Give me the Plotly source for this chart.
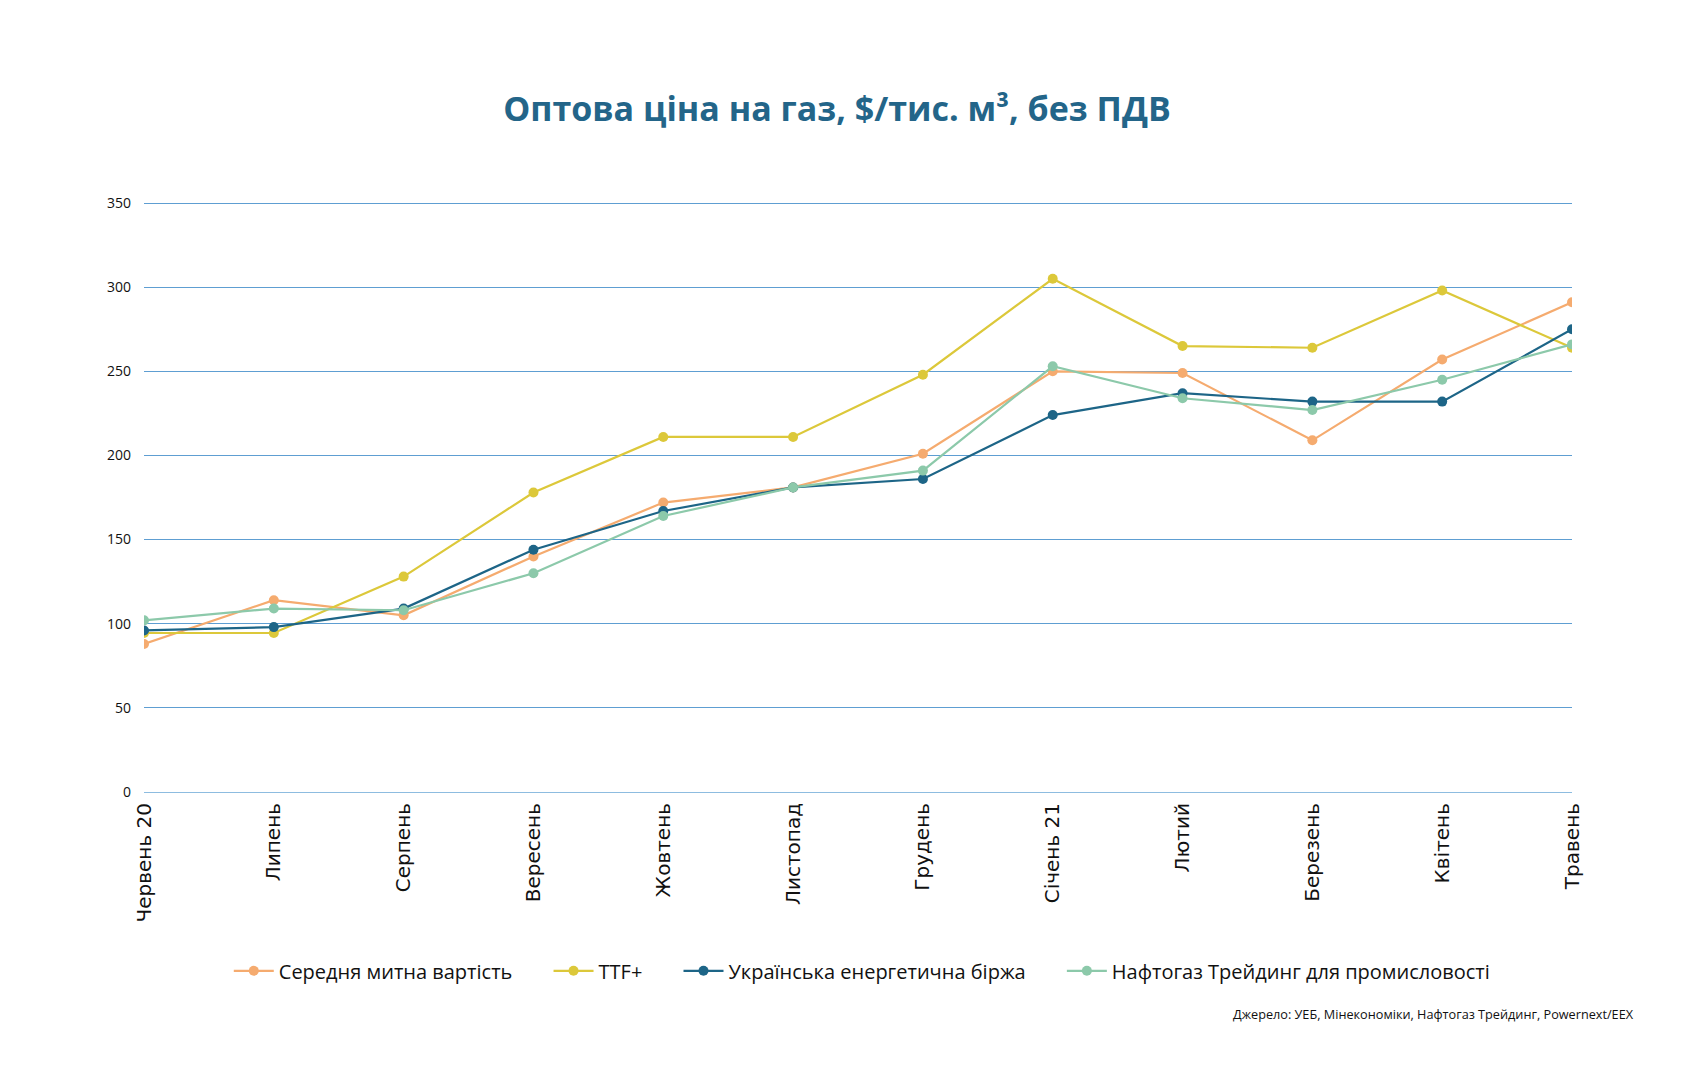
import plotly.graph_objects as go

months = ["Червень 20", "Липень", "Серпень", "Вересень", "Жовтень", "Листопад",
          "Грудень", "Січень 21", "Лютий", "Березень", "Квітень", "Травень"]

customs_avg = [88, 114, 105, 140, 172, 181, 201, 250, 249, 209, 257, 291]
ttf_plus = [94.5, 94.5, 128, 178, 211, 211, 248, 305, 265, 264, 298, 264]
ueb = [96, 98, 109, 144, 167, 181, 186, 224, 237, 232, 232, 275]
naftogaz = [102, 109, 108, 130, 164, 181, 191, 253, 234, 227, 245, 266]

series_names = ["Середня митна вартість", "TTF+", "Українська енергетична біржа",
                "Нафтогаз Трейдинг для промисловості"]
series_values = [customs_avg, ttf_plus, ueb, naftogaz]
colors = ["#F5AB6F", "#DCC83A", "#1D6587", "#8CC9AA"]

x_idx = list(range(len(months)))
pad = "\u00a0" * 6

fig = go.Figure()
for i, (name, vals, col) in enumerate(zip(series_names, series_values, colors)):
    label = name + (pad if i < len(series_names) - 1 else "")
    fig.add_trace(go.Scatter(
        x=x_idx, y=vals, name=label, mode="lines+markers",
        line=dict(color=col, width=2.2),
        marker=dict(color=col, size=10),
    ))

fig.update_layout(
    width=1684, height=1080,
    paper_bgcolor="white", plot_bgcolor="white",
    margin=dict(l=144, r=112, t=198, b=288),
    title=dict(
        text="<b>Оптова ціна на газ, $/тис. м³, без ПДВ</b>",
        x=0.497, xanchor="center", y=0.899, yanchor="middle",
        font=dict(family="Open Sans", size=34, color="#236589"),
    ),
    font=dict(family="Open Sans", color="#111111"),
    showlegend=True,
    legend=dict(
        orientation="h", x=0.503, xanchor="center", y=-0.301, yanchor="middle",
        font=dict(family="Open Sans", size=20, color="#111111"),
        itemwidth=40, tracegroupgap=0,
    ),
    annotations=[dict(
        text="Джерело: УЕБ, Мінекономіки, Нафтогаз Трейдинг, Powernext/EEX",
        xref="paper", yref="paper", x=1.045, xanchor="right", y=-0.373, yanchor="middle",
        showarrow=False, font=dict(family="Open Sans", size=12.7, color="#111111"),
    )],
)

fig.update_xaxes(
    tickmode="array", tickvals=x_idx, ticktext=months, tickangle=-90,
    range=[0, 11], showgrid=False, zeroline=False, showline=False,
    tickfont=dict(family="DejaVu Sans", size=20, color="#111111"),
    ticks="", ticklabelstandoff=6,
)
fig.update_yaxes(
    range=[0, 353], tickvals=[0, 50, 100, 150, 200, 250, 300, 350],
    showgrid=True, gridcolor="#5E9ED2", gridwidth=1, zeroline=True, zerolinecolor="#8DBCE0",
    zerolinewidth=1, showline=False, ticks="",
    tickfont=dict(family="Open Sans", size=14, color="#111111"), ticklabelstandoff=12,
)

fig.write_html("out.html")
